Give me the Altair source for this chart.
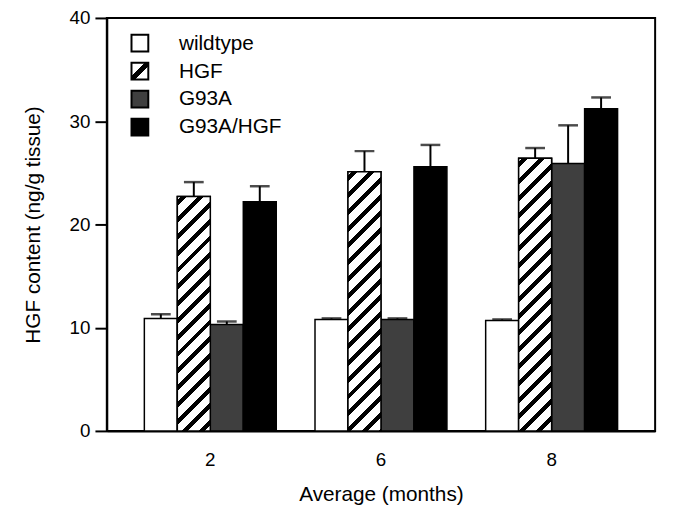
import altair as alt
import pandas as pd

months = ["2", "6", "8"]
series = ["wildtype", "HGF", "G93A", "G93A/HGF"]

wildtype = [10.9, 10.8, 10.7]
wildtype_err = [0.4, 0.1, 0.1]
hgf = [22.7, 25.1, 26.4]
hgf_err = [1.4, 2.0, 1.0]
g93a = [10.3, 10.8, 25.9]
g93a_err = [0.3, 0.1, 3.7]
g93a_hgf = [22.2, 25.6, 31.2]
g93a_hgf_err = [1.5, 2.1, 1.1]

W, H = 555, 418
FONT = "Liberation Sans"

rows = []
for name, vals, errs in [("wildtype", wildtype, wildtype_err), ("HGF", hgf, hgf_err),
                         ("G93A", g93a, g93a_err), ("G93A/HGF", g93a_hgf, g93a_hgf_err)]:
    for m, v, e in zip(months, vals, errs):
        rows.append({"month": m, "series": name, "value": v, "top": v + e})
df = pd.DataFrame(rows)

x_enc = alt.X("month:N", sort=months,
              scale=alt.Scale(domain=months, paddingInner=0.227, paddingOuter=0.22),
              axis=alt.Axis(title="Average (months)", labelAngle=0, ticks=False,
                            labelFontSize=19, labelPadding=20, labelFont=FONT, labelColor="black",
                            titleFont=FONT, titleFontSize=21, titleFontWeight="normal",
                            titleColor="black", titlePadding=14,
                            domainColor="black", domainWidth=2))
xo_enc = alt.XOffset("series:N", sort=series,
                     scale=alt.Scale(domain=series, paddingInner=0, paddingOuter=0))
y_enc = alt.Y("value:Q", scale=alt.Scale(domain=[0, 40], nice=False),
              axis=alt.Axis(values=[0, 10, 20, 30, 40], title="HGF content (ng/g tissue)",
                            tickSize=12, tickWidth=2, tickColor="black",
                            domainColor="black", domainWidth=2, grid=False,
                            labelFont=FONT, labelFontSize=19, labelPadding=5, labelColor="black",
                            titleFont=FONT, titleFontSize=21, titleFontWeight="normal",
                            titleColor="black", titlePadding=26))

base = alt.Chart(df).encode(x=x_enc, xOffset=xo_enc)

bars = base.mark_bar(stroke="black", strokeWidth=1.5).encode(
    y=y_enc,
    color=alt.Color("series:N", sort=series,
                    scale=alt.Scale(domain=series, range=["white", "white", "#3f3f3f", "black"]),
                    legend=None),
)

# hatched HGF bars: diagonal stripes via a gradient with hard stops
bar_w = (W / (3 - 0.227 + 0.44)) * 0.773 / 4
px_per_unit = H / 40.0


def hatch(h, w, period=17.0, thick=6.0):
    k = h / w
    s = (1 + k) / (1 + k * k)
    total = w + h
    stops = [{"offset": 0, "color": "white"}]
    d0 = 4.0
    while d0 < total:
        a = max(0.0, d0) / total
        b = min(total, d0 + thick) / total
        stops += [{"offset": a, "color": "white"}, {"offset": a, "color": "black"},
                  {"offset": b, "color": "black"}, {"offset": b, "color": "white"}]
        d0 += period
    stops.append({"offset": 1, "color": "white"})
    return {"gradient": "linear", "x1": 0, "y1": 0, "x2": s, "y2": s * k, "stops": stops}


hatch_layers = []
for m, v in zip(months, hgf):
    hatch_layers.append(
        base.transform_filter((alt.datum.series == "HGF") & (alt.datum.month == m))
        .mark_bar(stroke="black", strokeWidth=1.5, fill=hatch(v * px_per_unit, bar_w))
        .encode(y=alt.Y("value:Q"))
    )

err_rules = base.mark_rule(color="black", strokeWidth=2).encode(
    y=alt.Y("value:Q"), y2="top:Q")
err_caps = base.mark_tick(color="black", orient="horizontal", size=20, thickness=2.5).encode(
    y=alt.Y("top:Q"))

# custom legend
legend_fills = [
    "white",
    {"gradient": "linear", "x1": 0, "y1": 0, "x2": 1, "y2": 1,
     "stops": [{"offset": 0, "color": "white"}, {"offset": 0.4, "color": "white"},
               {"offset": 0.4, "color": "black"}, {"offset": 0.6, "color": "black"},
               {"offset": 0.6, "color": "white"}, {"offset": 1, "color": "white"}]},
    "#3f3f3f",
    "black",
]
legend_layers = []
for i, name in enumerate(series):
    ldf = pd.DataFrame({"series": [name]})
    y0 = 17 + 28.3 * i
    legend_layers.append(
        alt.Chart(ldf).mark_rect(stroke="black", strokeWidth=2, fill=legend_fills[i]).encode(
            x=alt.value(25), x2=alt.value(42), y=alt.value(y0), y2=alt.value(y0 + 17))
    )
    legend_layers.append(
        alt.Chart(ldf).mark_text(align="left", baseline="middle", font=FONT, fontSize=21,
                                 color="black").encode(
            text="series:N", x=alt.value(73), y=alt.value(y0 + 9))
    )

chart = alt.layer(bars, *hatch_layers, err_rules, err_caps, *legend_layers).properties(
    width=W, height=H,
    autosize=alt.AutoSizeParams(type="none"),
    padding={"left": 100, "top": 7, "right": 11, "bottom": 80},
    background="white",
).configure_view(stroke="black", strokeWidth=2)

chart.save("out.html", embed_options={"renderer": "svg", "actions": False})
